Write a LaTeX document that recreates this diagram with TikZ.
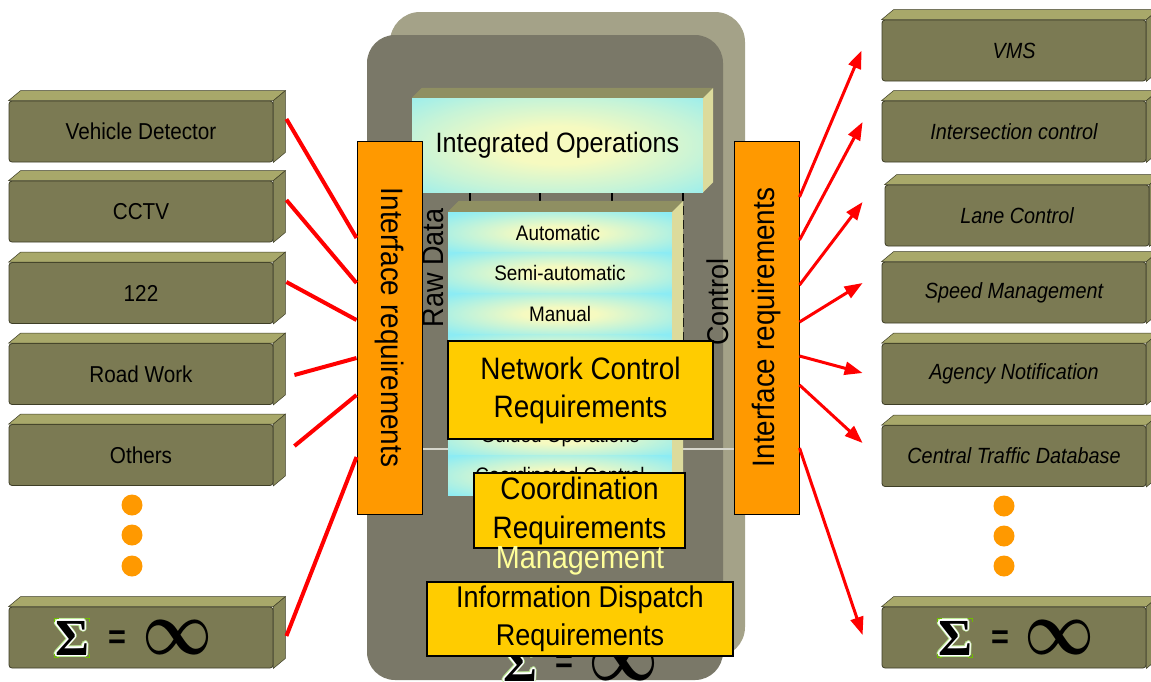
\documentclass[tikz,border=0pt]{standalone}
\usepackage{fontspec}
\setmainfont{Liberation Sans}[FakeStretch=0.9]
\newfontfamily\sigfont{Liberation Serif}
\usetikzlibrary{arrows.meta,calc}
\definecolor{ofront}{RGB}{123,122,83}
\definecolor{otop}{RGB}{168,168,106}
\definecolor{oside}{RGB}{136,136,90}
\definecolor{oedge}{RGB}{62,62,38}
\definecolor{pfront}{RGB}{122,120,104}
\definecolor{pback}{RGB}{164,162,136}
\definecolor{cyanc}{RGB}{140,236,244}
\definecolor{yelc}{RGB}{246,250,192}
\definecolor{ctop}{RGB}{143,143,98}
\definecolor{cside}{RGB}{220,219,156}
\definecolor{orangec}{RGB}{255,153,0}
\definecolor{goldc}{RGB}{255,204,0}
\definecolor{mgmt}{RGB}{255,255,153}
\definecolor{sgreen}{RGB}{190,236,150}
\definecolor{hgreen}{RGB}{110,190,0}
\definecolor{hline}{RGB}{214,214,204}
\colorlet{bandmid}{yelc!55!cyanc}
\pgfdeclareradialshading{band}{\pgfpoint{0bp}{0bp}}{color(0bp)=(yelc); color(8bp)=(yelc); color(20bp)=(bandmid); color(34bp)=(cyanc); color(50bp)=(cyanc)}
\pgfdeclareradialshading{glow}{\pgfpoint{0bp}{0bp}}{color(0bp)=(yelc); color(10bp)=(yelc); color(25bp)=(bandmid); color(40bp)=(cyanc); color(50bp)=(cyanc)}
\newcommand\olay[3]{\rlap{\kern#1\raisebox{#2}{\color{#3}Σ}}}
\newcommand\sigmaout{{\sigfont\bfseries\fontsize{52}{52}\selectfont
\olay{-2.6pt}{0pt}{sgreen}\olay{2.6pt}{0pt}{sgreen}\olay{0pt}{2.6pt}{sgreen}\olay{0pt}{-2.6pt}{sgreen}%
\olay{-1.9pt}{1.9pt}{sgreen}\olay{1.9pt}{1.9pt}{sgreen}\olay{-1.9pt}{-1.9pt}{sgreen}\olay{1.9pt}{-1.9pt}{sgreen}%
\olay{-1.4pt}{0pt}{white}\olay{1.4pt}{0pt}{white}\olay{0pt}{1.4pt}{white}\olay{0pt}{-1.4pt}{white}%
\olay{-1pt}{1pt}{white}\olay{1pt}{1pt}{white}\olay{-1pt}{-1pt}{white}\olay{1pt}{-1pt}{white}%
Σ}}
\newcommand\infglyph{\resizebox{70pt}{34pt}{\boldmath$\infty$}}
\tikzset{
  obox/.style={draw=oedge, fill=ofront, line width=0.8pt, rounded corners=3pt,
    minimum width=264pt, minimum height=61pt, inner sep=0pt, font=\fontsize{23}{26}\selectfont},
  oboxi/.style={obox, font=\fontsize{22}{26}\selectfont\itshape},
  otopface/.style={fill=otop, draw=oedge, line width=0.5pt},
  osideface/.style={fill=oside, draw=oedge, line width=0.5pt},
  ctopface/.style={fill=ctop},
  csideface/.style={fill=cside},
  cbox/.style={shade, shading=glow, inner sep=0pt},
  optext/.style={font=\fontsize{21}{24}\selectfont, inner sep=0pt},
  sidetext/.style={font=\fontsize{30}{32}\selectfont, inner sep=0pt},
  reqbox/.style={draw=black, fill=goldc, line width=1.2pt, inner sep=0pt, align=center},
  ifbox/.style={draw=black, fill=orangec, line width=1pt, inner sep=0pt,
    minimum width=65pt, minimum height=373pt, font=\fontsize{31}{32}\selectfont},
  redline/.style={red, line width=4pt},
  redarrow/.style={red, line width=3pt, -{Triangle[length=18pt,width=13pt]}},
  dot/.style={circle, fill=orangec, minimum size=21pt, inner sep=0pt},
  eqtext/.style={font=\fontsize{34}{34}\selectfont\bfseries, inner sep=0pt},
  handle/.style={hgreen, line width=1pt}
}
\newcommand\ofaces[1]{%
  \filldraw[otopface] (#1.north west) -- ++(12,-10) -- ($(#1.north east)+(12,-10)$) -- (#1.north east) -- cycle;
  \filldraw[osideface] (#1.north east) -- ++(12,-10) -- ($(#1.south east)+(12,-10)$) -- (#1.south east) -- cycle;}
\newcommand\cfaces[3]{%
  \fill[ctopface] (#1.north west) -- ++(#2,#3) -- ($(#1.north east)+(#2,#3)$) -- (#1.north east) -- cycle;
  \fill[csideface] (#1.north east) -- ++(#2,#3) -- ($(#1.south east)+(#2,#3)$) -- (#1.south east) -- cycle;}
\newcommand\handles[1]{%
  \draw[handle] ($(#1.north west)+(0,4)$) -- (#1.north west) -- ++(4,0);
  \draw[handle] ($(#1.north east)+(0,4)$) -- (#1.north east) -- ++(-4,0);
  \draw[handle] ($(#1.south west)+(0,-4)$) -- (#1.south west) -- ++(4,0);
  \draw[handle] ($(#1.south east)+(0,-4)$) -- (#1.south east) -- ++(-4,0);}
\begin{document}
\begin{tikzpicture}[x=1pt,y=-1pt]
\clip (0,0) rectangle (1151,681);
\fill[white] (0,0) rectangle (1151,681);
% central plate
\fill[pback, rounded corners=30pt] (390,12) rectangle (745,657);
\fill[pfront, rounded corners=28pt] (367,35) rectangle (723,680);
\draw[hline, line width=1.5pt] (422,449) -- (735,449);
% hidden dashed frame
\draw[black, line width=2.5pt] (470,192) -- (470,201);
\draw[black, line width=2.5pt] (540,192) -- (540,201);
\draw[black, line width=2.5pt] (612,192) -- (612,201);
\draw[black, line width=2pt, dash pattern=on 9pt off 5pt] (683,192) -- (683,345);
% integrated operations
\node[cbox, minimum width=291pt, minimum height=94pt, font=\fontsize{28}{30}\selectfont] (io) at (557.5,145) {Integrated Operations};
\cfaces{io}{10}{-10}
% operations levels box
\node[fill=cyanc, minimum width=224pt, minimum height=283pt, inner sep=0pt] (ops) at (560,353.5) {};
\begin{scope}
\clip (ops.south west) rectangle (ops.north east);
\foreach \yy in {233,273,314,355,396,437,476} \shade[shading=band] (448,\yy-20.5) rectangle (672,\yy+20.5);
\end{scope}
\cfaces{ops}{11}{-11}
\node[optext] (tauto) at (558,233) {Automatic};
\node[optext] (tsemi) at (560,273) {Semi-automatic};
\node[optext] (tman) at (560,314) {Manual};
\node[optext] (tguid) at (560,437) {Guided Operations};
\node[optext] (tcoor) at (560,475) {Coordinated Control};
\node[sidetext, rotate=90] (raw) at (433,268) {Raw Data};
\node[sidetext, rotate=90] (ctl) at (718,302) {Control};
% requirement boxes
\node[reqbox, minimum width=265pt, minimum height=98pt, font=\fontsize{31}{38}\selectfont] (ncr) at (580.5,390) {Network Control\\Requirements};
\node[reqbox, minimum width=211pt, minimum height=75pt, font=\fontsize{31}{39}\selectfont] (cor) at (579.5,510.5) {Coordination\\Requirements};
\node[font=\fontsize{32}{34}\selectfont, text=mgmt, inner sep=0pt] (mgt) at (580,561) {Management};
% bottom sigma (partly hidden)
\node[inner sep=0pt] (sgB) at (520,664) {\sigmaout};
\node[eqtext] (eqB) at (564,664) {=};
\node[inner sep=0pt] (infB) at (624,663) {\infglyph};
\node[reqbox, minimum width=306pt, minimum height=74pt, font=\fontsize{30}{38}\selectfont] (idr) at (580,619) {Information Dispatch\\Requirements};
% interface boxes
\node[ifbox] (ifL) at (389.5,327.5) {\rotatebox{-90}{Interface requirements}};
\node[ifbox] (ifR) at (766.5,327.5) {\rotatebox{90}{Interface requirements}};
% left olive boxes
\node[obox] (L1) at (141,131.5) {Vehicle Detector}; \ofaces{L1}
\node[obox] (L2) at (141,211.5) {CCTV}; \ofaces{L2}
\node[obox] (L3) at (141,293) {122}; \ofaces{L3}
\node[obox] (L4) at (141,374) {Road Work}; \ofaces{L4}
\node[obox] (L5) at (141,455) {Others}; \ofaces{L5}
\node[obox] (L6) at (141,637.5) {}; \ofaces{L6}
\node[inner sep=0pt] (sgL) at (72,638) {\sigmaout}; \handles{sgL}
\node[eqtext] (eqL) at (117,640) {=};
\node[inner sep=0pt] (infL) at (178,637) {\infglyph};
\node[dot] (dl1) at (132,505) {};
\node[dot] (dl2) at (132,535) {};
\node[dot] (dl3) at (132,566) {};
% right olive boxes
\node[oboxi] (R1) at (1014,50.5) {VMS}; \ofaces{R1}
\node[oboxi] (R2) at (1014,131.5) {Intersection control}; \ofaces{R2}
\node[oboxi] (R3) at (1017,215.5) {Lane Control}; \ofaces{R3}
\node[oboxi] (R4) at (1014,292.5) {Speed Management}; \ofaces{R4}
\node[oboxi] (R5) at (1014,374) {Agency Notification}; \ofaces{R5}
\node[oboxi] (R6) at (1014,456) {Central Traffic Database}; \ofaces{R6}
\node[oboxi] (R7) at (1014,637.5) {}; \ofaces{R7}
\node[inner sep=0pt] (sgR) at (955,638) {\sigmaout}; \handles{sgR}
\node[eqtext] (eqR) at (1000,640) {=};
\node[inner sep=0pt] (infR) at (1060,637) {\infglyph};
\node[dot] (dr1) at (1004,506) {};
\node[dot] (dr2) at (1004,536) {};
\node[dot] (dr3) at (1004,566) {};
% left connectors
\draw[redline] ($(L1.east)+(13,-12.5)$) -- ($(ifL.west)+(0,-89.5)$);
\draw[redline] ($(L2.east)+(13,-11.5)$) -- ($(ifL.west)+(0,-44.5)$);
\draw[redline] ($(L3.east)+(13,-11)$) -- ($(ifL.west)+(0,-7.5)$);
\draw[redline] ($(L4.east)+(21,1)$) -- ($(ifL.west)+(0,30.5)$);
\draw[redline] ($(L5.east)+(21,-9)$) -- ($(ifL.west)+(0,67.5)$);
\draw[redline] ($(L6.east)+(13,-1.5)$) -- ($(ifL.west)+(0,129.5)$);
% right arrows
\draw[redarrow] ($(ifR.east)+(0,-130.5)$) -- ($(R1.west)+(-20,0)$);
\draw[redarrow] ($(ifR.east)+(0,-87.5)$) -- ($(R2.west)+(-19,-9.5)$);
\draw[redarrow] ($(ifR.east)+(0,-42.5)$) -- ($(R3.west)+(-22,-13.5)$);
\draw[redarrow] ($(ifR.east)+(0,-5.5)$) -- ($(R4.west)+(-19,-9.5)$);
\draw[redarrow] ($(ifR.east)+(0,28.5)$) -- ($(R5.west)+(-19,-1)$);
\draw[redarrow] ($(ifR.east)+(0,57.5)$) -- ($(R6.west)+(-19,-13)$);
\draw[redarrow] ($(ifR.east)+(0,120.5)$) -- ($(R7.west)+(-19,-2.5)$);
\end{tikzpicture}
\end{document}
